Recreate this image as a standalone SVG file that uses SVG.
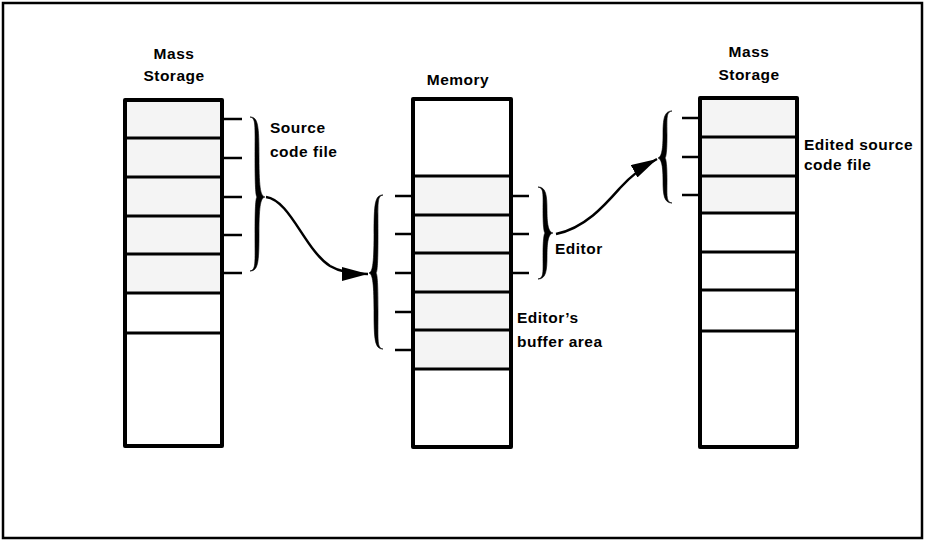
<svg xmlns="http://www.w3.org/2000/svg" width="925" height="542" viewBox="0 0 925 542">
<style>
  .frame{fill:#fff;stroke:#000;stroke-width:2.5}
  .box{fill:none;stroke:#000;stroke-width:4;stroke-linejoin:round}
  .shade{fill:#f4f4f4;stroke:none}
  .div{stroke:#000;stroke-width:3}
  .tick{stroke:#000;stroke-width:2.5}
  .brace{fill:#000;stroke:#000;stroke-width:0.6;stroke-linejoin:round}
  .conn{fill:none;stroke:#000;stroke-width:2.5}
  text{font-family:"Liberation Sans",Arial,sans-serif;font-size:15.5px;font-weight:bold;letter-spacing:0.5px;fill:#000}
  .c{text-anchor:middle}
</style>
<defs>
  <marker id="ah" markerUnits="userSpaceOnUse" markerWidth="28" markerHeight="14" refX="26" refY="7" orient="auto">
    <path d="M0,0 L26,7 L0,14 z" fill="#000"/>
  </marker>
</defs>
<rect class="frame" x="3" y="3" width="919" height="535"/>

<g id="mass-storage-left">
  <text class="c" x="174" y="59">Mass</text>
  <text class="c" x="174" y="81">Storage</text>
  <rect class="shade" x="125" y="100" width="97" height="193"/>
  <line class="div" x1="125" y1="138" x2="222" y2="138"/>
  <line class="div" x1="125" y1="177" x2="222" y2="177"/>
  <line class="div" x1="125" y1="216" x2="222" y2="216"/>
  <line class="div" x1="125" y1="254" x2="222" y2="254"/>
  <line class="div" x1="125" y1="293" x2="222" y2="293"/>
  <line class="div" x1="125" y1="333" x2="222" y2="333"/>
  <rect class="box" x="125" y="100" width="97" height="346"/>
  <line class="tick" x1="222" y1="119" x2="242" y2="119"/>
  <line class="tick" x1="222" y1="158" x2="242" y2="158"/>
  <line class="tick" x1="222" y1="197" x2="242" y2="197"/>
  <line class="tick" x1="222" y1="235" x2="242" y2="235"/>
  <line class="tick" x1="222" y1="273" x2="242" y2="273"/>
  <path class="brace" d="M250,117 C258,117 259,125 259,157.5 C259,191 261,196 265,197 C261,198 259,203 259,233.5 C259,263 258,271 250,271 C256,270 255,264 255,233.5 C255,203 256,198 257,197 C256,196 255,191 255,157.5 C255,124 256,118 250,117 Z"/>
  <text x="270" y="133">Source</text>
  <text x="270" y="157">code file</text>
</g>

<g id="memory">
  <text class="c" x="458" y="85">Memory</text>
  <rect class="shade" x="413" y="176" width="98" height="193"/>
  <line class="div" x1="413" y1="176" x2="511" y2="176"/>
  <line class="div" x1="413" y1="215" x2="511" y2="215"/>
  <line class="div" x1="413" y1="253" x2="511" y2="253"/>
  <line class="div" x1="413" y1="292" x2="511" y2="292"/>
  <line class="div" x1="413" y1="330" x2="511" y2="330"/>
  <line class="div" x1="413" y1="369" x2="511" y2="369"/>
  <rect class="box" x="413" y="99" width="98" height="348"/>
  <line class="tick" x1="395" y1="196" x2="413" y2="196"/>
  <line class="tick" x1="395" y1="234" x2="413" y2="234"/>
  <line class="tick" x1="395" y1="273" x2="413" y2="273"/>
  <line class="tick" x1="395" y1="312" x2="413" y2="312"/>
  <line class="tick" x1="395" y1="350" x2="413" y2="350"/>
  <path class="brace" d="M383,195 C375,195 374,203 374,234.5 C374,267 372,272 369,273 C372,274 374,279 374,310.5 C374,341 375,349 383,349 C377,348 378,342 378,310.5 C378,279 377,274 376,273 C377,272 378,267 378,234.5 C378,202 377,196 383,195 Z"/>
  <line class="tick" x1="511" y1="196" x2="529" y2="196"/>
  <line class="tick" x1="511" y1="234" x2="529" y2="234"/>
  <line class="tick" x1="511" y1="273" x2="529" y2="273"/>
  <path class="brace" d="M538,187 C546,187 547,195 547,210.5 C547,227 549,232 553,233 C549,234 547,239 547,255.5 C547,271 546,279 538,279 C544,278 543,272 543,255.5 C543,239 544,234 545,233 C544,232 543,227 543,210.5 C543,194 544,188 538,187 Z"/>
  <text x="555" y="254">Editor</text>
  <text x="517" y="323">Editor’s</text>
  <text x="517" y="347">buffer area</text>
</g>

<g id="mass-storage-right">
  <text class="c" x="749" y="57">Mass</text>
  <text class="c" x="749" y="80">Storage</text>
  <rect class="shade" x="700" y="98" width="97" height="115"/>
  <line class="div" x1="700" y1="137" x2="797" y2="137"/>
  <line class="div" x1="700" y1="176" x2="797" y2="176"/>
  <line class="div" x1="700" y1="213" x2="797" y2="213"/>
  <line class="div" x1="700" y1="252" x2="797" y2="252"/>
  <line class="div" x1="700" y1="290" x2="797" y2="290"/>
  <line class="div" x1="700" y1="331" x2="797" y2="331"/>
  <rect class="box" x="700" y="98" width="97" height="349"/>
  <line class="tick" x1="682" y1="118" x2="700" y2="118"/>
  <line class="tick" x1="682" y1="157" x2="700" y2="157"/>
  <line class="tick" x1="682" y1="195" x2="700" y2="195"/>
  <path class="brace" d="M672,111 C664,111 663,119 663,135 C663,152 661,157 658,158 C661,159 663,164 663,180 C663,195 664,203 672,203 C666,202 667,196 667,180 C667,164 666,159 665,158 C666,157 667,152 667,135 C667,118 666,112 672,111 Z"/>
  <text x="804" y="150">Edited source</text>
  <text x="804" y="170">code file</text>
</g>

<g id="connectors">
  <path class="conn" marker-end="url(#ah)" d="M266,197 C290,200 305,250 330,266 C340,272 355,274 368,274"/>
  <path class="conn" marker-end="url(#ah)" d="M556,234 C585,228 605,205 620,188 C630,177 644,166 657,159"/>
</g>
</svg>
